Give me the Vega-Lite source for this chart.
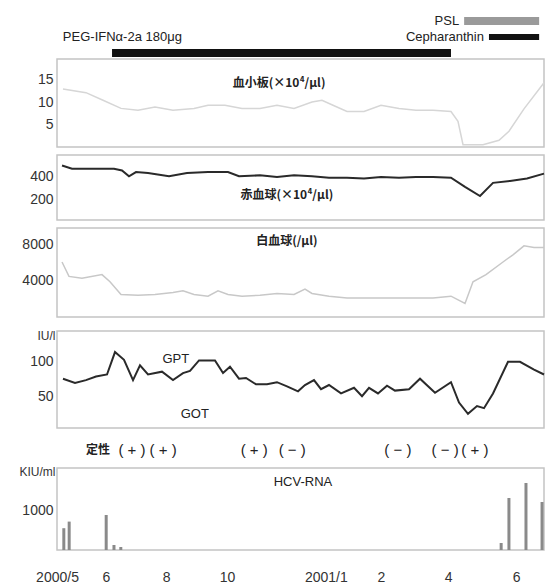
{
  "$schema": "https://vega.github.io/schema/vega-lite/v6.json",
  "background": "white",
  "padding": {"left": 18, "top": 10, "right": 0, "bottom": 0},
  "config": {
    "view": {"stroke": "#c4c4c4", "strokeWidth": 1.5},
    "axis": {"grid": false, "ticks": false, "domain": false, "title": null, "labelFont": "Liberation Sans", "labelFontSize": 14, "labelColor": "#333", "labelPadding": 4, "titleFont": "Liberation Sans", "titleFontSize": 12, "titleFontWeight": "normal", "titleColor": "#333"},
    "text": {"font": "Liberation Sans", "color": "#222"}
  },
  "spacing": 0,
  "bounds": "flush",
  "resolve": {"scale": {"y": "independent"}},
  "vconcat": [
    {
      "width": 487, "height": 47,
      "view": {"stroke": null},
      "data": {"values": [
        {"drug": "PSL", "lane": 1, "start": 83.6, "end": 99.0},
        {"drug": "Cepharanthin", "lane": 2, "start": 88.7, "end": 99.0},
        {"drug": "PEG-IFNα-2a 180μg", "lane": 3, "start": 11.3, "end": 80.9}
      ]},
      "layer": [
        {
          "mark": {"type": "rule", "strokeCap": "butt"},
          "encoding": {
            "x": {"field": "start", "type": "quantitative", "scale": {"domain": [0, 100], "nice": false, "zero": false}, "axis": null},
            "x2": {"field": "end"},
            "y": {"field": "lane", "type": "quantitative", "scale": {"domain": [0.31, 3.25], "reverse": true, "nice": false, "zero": false}, "axis": null},
            "color": {"condition": {"test": "datum.drug === 'PSL'", "value": "#9a9a9a"}, "value": "#111"},
            "strokeWidth": {"condition": {"test": "datum.drug === 'Cepharanthin'", "value": 6}, "value": 8}
          }
        },
        {
          "transform": [{"filter": "datum.drug !== 'PEG-IFNα-2a 180μg'"}],
          "mark": {"type": "text", "align": "right", "dx": -5, "fontSize": 13},
          "encoding": {
            "x": {"field": "start", "type": "quantitative"},
            "y": {"field": "lane", "type": "quantitative"},
            "text": {"field": "drug"}
          }
        },
        {
          "data": {"values": [{"label": "PEG-IFNα-2a 180μg", "t": 1.2, "lane": 2}]},
          "mark": {"type": "text", "align": "left", "fontSize": 13},
          "encoding": {
            "x": {"field": "t", "type": "quantitative"},
            "y": {"field": "lane", "type": "quantitative"},
            "text": {"field": "label"}
          }
        }
      ]
    },
    {
      "width": 487, "height": 2, "view": {"stroke": null},
      "data": {"values": [{}]}, "mark": "text", "encoding": {"text": {"value": ""}}
    },
    {
      "width": 487, "height": 88,
      "layer": [
        {
          "data": {"values": [
            {"t": 1.23, "v": 12.9}, {"t": 5.95, "v": 12.1}, {"t": 9.45, "v": 10.4}, {"t": 13.14, "v": 8.6},
            {"t": 16.63, "v": 8.2}, {"t": 20.12, "v": 8.9}, {"t": 23.82, "v": 8.2}, {"t": 28.13, "v": 8.6},
            {"t": 31.01, "v": 9.3}, {"t": 34.5, "v": 9.3}, {"t": 37.99, "v": 8.6}, {"t": 41.68, "v": 8.6},
            {"t": 45.17, "v": 9.3}, {"t": 48.67, "v": 8.6}, {"t": 52.36, "v": 10.0}, {"t": 54.41, "v": 10.4},
            {"t": 56.67, "v": 9.3}, {"t": 59.55, "v": 7.9}, {"t": 63.04, "v": 7.9}, {"t": 66.53, "v": 9.3},
            {"t": 70.23, "v": 8.6}, {"t": 73.72, "v": 8.2}, {"t": 77.21, "v": 8.2}, {"t": 80.9, "v": 7.9},
            {"t": 82.34, "v": 5.7}, {"t": 83.37, "v": 0.5}, {"t": 87.47, "v": 0.5}, {"t": 90.76, "v": 1.5},
            {"t": 92.81, "v": 3.5}, {"t": 95.89, "v": 8.5}, {"t": 100, "v": 14.3}
          ]},
          "mark": {"type": "line", "color": "#d6d6d6", "strokeWidth": 1.5},
          "encoding": {
            "x": {"field": "t", "type": "quantitative", "scale": {"domain": [0, 100], "nice": false, "zero": false}, "axis": null},
            "y": {"field": "v", "type": "quantitative", "scale": {"domain": [0, 19.6], "nice": false, "zero": false}, "axis": {"values": [5, 10, 15]}}
          }
        },
        {
          "data": {"values": [{"label": "血小板(×10⁴/μl)", "t": 45.6, "v": 14.3}]},
          "mark": {"type": "text", "font": "Noto Sans CJK JP", "fontSize": 12, "fontWeight": "bold"},
          "encoding": {
            "x": {"field": "t", "type": "quantitative"},
            "y": {"field": "v", "type": "quantitative"},
            "text": {"field": "label"}
          }
        }
      ]
    },
    {
      "width": 487, "height": 8, "view": {"stroke": null},
      "data": {"values": [{}]}, "mark": "text", "encoding": {"text": {"value": ""}}
    },
    {
      "width": 487, "height": 65,
      "layer": [
        {
          "data": {"values": [
            {"t": 1.03, "v": 500}, {"t": 3.08, "v": 471}, {"t": 6.57, "v": 471}, {"t": 11.7, "v": 471},
            {"t": 13.35, "v": 457}, {"t": 14.78, "v": 406}, {"t": 16.22, "v": 443}, {"t": 18.69, "v": 434},
            {"t": 23.0, "v": 406}, {"t": 26.69, "v": 434}, {"t": 31.01, "v": 443}, {"t": 35.11, "v": 443},
            {"t": 37.37, "v": 406}, {"t": 41.68, "v": 414}, {"t": 45.17, "v": 400}, {"t": 48.67, "v": 414},
            {"t": 52.36, "v": 406}, {"t": 55.85, "v": 394}, {"t": 59.55, "v": 394}, {"t": 63.04, "v": 386},
            {"t": 66.53, "v": 400}, {"t": 70.23, "v": 394}, {"t": 73.72, "v": 400}, {"t": 77.21, "v": 400},
            {"t": 80.9, "v": 394}, {"t": 83.78, "v": 314}, {"t": 86.86, "v": 234}, {"t": 89.53, "v": 349},
            {"t": 93.02, "v": 366}, {"t": 96.51, "v": 386}, {"t": 100, "v": 429}
          ]},
          "mark": {"type": "line", "color": "#2a2a2a", "strokeWidth": 2},
          "encoding": {
            "x": {"field": "t", "type": "quantitative", "scale": {"domain": [0, 100], "nice": false, "zero": false}, "axis": null},
            "y": {"field": "v", "type": "quantitative", "scale": {"domain": [26, 591], "nice": false, "zero": false}, "axis": {"values": [200, 400]}}
          }
        },
        {
          "data": {"values": [{"label": "赤血球(×10⁴/μl)", "t": 47.2, "v": 243}]},
          "mark": {"type": "text", "font": "Noto Sans CJK JP", "fontSize": 12, "fontWeight": "bold"},
          "encoding": {
            "x": {"field": "t", "type": "quantitative"},
            "y": {"field": "v", "type": "quantitative"},
            "text": {"field": "label"}
          }
        }
      ]
    },
    {
      "width": 487, "height": 8, "view": {"stroke": null},
      "data": {"values": [{}]}, "mark": "text", "encoding": {"text": {"value": ""}}
    },
    {
      "width": 487, "height": 89,
      "layer": [
        {
          "data": {"values": [
            {"t": 1.03, "v": 6000}, {"t": 2.46, "v": 4400}, {"t": 5.13, "v": 4200}, {"t": 9.24, "v": 4600},
            {"t": 10.88, "v": 3800}, {"t": 13.14, "v": 2400}, {"t": 16.63, "v": 2300}, {"t": 20.12, "v": 2400},
            {"t": 23.82, "v": 2600}, {"t": 25.87, "v": 2800}, {"t": 28.13, "v": 2400}, {"t": 31.01, "v": 2200},
            {"t": 33.06, "v": 2800}, {"t": 35.11, "v": 2400}, {"t": 37.99, "v": 2200}, {"t": 41.68, "v": 2300},
            {"t": 45.17, "v": 2500}, {"t": 48.67, "v": 2400}, {"t": 50.92, "v": 3000}, {"t": 52.36, "v": 2500},
            {"t": 55.85, "v": 2200}, {"t": 59.55, "v": 2000}, {"t": 66.53, "v": 2000}, {"t": 73.72, "v": 2000},
            {"t": 77.21, "v": 2000}, {"t": 80.9, "v": 2200}, {"t": 83.78, "v": 1400}, {"t": 85.42, "v": 3800},
            {"t": 88.09, "v": 4600}, {"t": 91.58, "v": 6000}, {"t": 93.63, "v": 6800}, {"t": 95.89, "v": 7800},
            {"t": 97.95, "v": 7600}, {"t": 100, "v": 7600}
          ]},
          "mark": {"type": "line", "color": "#c8c8c8", "strokeWidth": 1.5},
          "encoding": {
            "x": {"field": "t", "type": "quantitative", "scale": {"domain": [0, 100], "nice": false, "zero": false}, "axis": null},
            "y": {"field": "v", "type": "quantitative", "scale": {"domain": [-111, 9778], "nice": false, "zero": false}, "axis": {"values": [4000, 8000], "format": "d"}}
          }
        },
        {
          "data": {"values": [{"label": "白血球(/μl)", "t": 47.2, "v": 8333}]},
          "mark": {"type": "text", "font": "Noto Sans CJK JP", "fontSize": 12, "fontWeight": "bold"},
          "encoding": {
            "x": {"field": "t", "type": "quantitative"},
            "y": {"field": "v", "type": "quantitative"},
            "text": {"field": "label"}
          }
        }
      ]
    },
    {
      "width": 487, "height": 14, "view": {"stroke": null},
      "data": {"values": [{}]}, "mark": "text", "encoding": {"text": {"value": ""}}
    },
    {
      "width": 487, "height": 97,
      "layer": [
        {
          "data": {"values": [
            {"t": 1.23, "v": 76}, {"t": 3.7, "v": 70}, {"t": 5.95, "v": 74}, {"t": 8.01, "v": 79},
            {"t": 10.27, "v": 82}, {"t": 11.91, "v": 114}, {"t": 13.76, "v": 103}, {"t": 15.61, "v": 74},
            {"t": 17.04, "v": 95}, {"t": 18.69, "v": 82}, {"t": 21.56, "v": 86}, {"t": 23.82, "v": 74},
            {"t": 25.87, "v": 84}, {"t": 27.31, "v": 87}, {"t": 29.16, "v": 102}, {"t": 32.44, "v": 102},
            {"t": 34.09, "v": 84}, {"t": 35.52, "v": 93}, {"t": 37.37, "v": 76}, {"t": 38.81, "v": 77},
            {"t": 40.86, "v": 68}, {"t": 43.12, "v": 68}, {"t": 45.17, "v": 71}, {"t": 47.23, "v": 65},
            {"t": 49.49, "v": 58}, {"t": 50.92, "v": 67}, {"t": 52.77, "v": 74}, {"t": 54.21, "v": 61},
            {"t": 55.85, "v": 67}, {"t": 58.32, "v": 55}, {"t": 60.99, "v": 63}, {"t": 62.63, "v": 51},
            {"t": 64.07, "v": 63}, {"t": 65.91, "v": 55}, {"t": 67.76, "v": 66}, {"t": 69.4, "v": 59},
            {"t": 72.28, "v": 61}, {"t": 74.54, "v": 76}, {"t": 77.62, "v": 56}, {"t": 80.9, "v": 71},
            {"t": 82.55, "v": 42}, {"t": 84.39, "v": 26}, {"t": 86.24, "v": 37}, {"t": 87.68, "v": 34},
            {"t": 89.53, "v": 55}, {"t": 92.61, "v": 100}, {"t": 95.07, "v": 100}, {"t": 97.95, "v": 89},
            {"t": 100, "v": 82}
          ]},
          "mark": {"type": "line", "color": "#2a2a2a", "strokeWidth": 2},
          "encoding": {
            "x": {"field": "t", "type": "quantitative", "scale": {"domain": [0, 100], "nice": false, "zero": false}, "axis": null},
            "y": {"field": "v", "type": "quantitative", "scale": {"domain": [5.7, 144], "nice": false, "zero": false},
                  "axis": {"values": [50, 100], "title": "IU/l", "titleAngle": 0, "titleAlign": "right", "titleBaseline": "middle", "titleX": -2, "titleY": 4}}
          }
        },
        {
          "data": {"values": [{"label": "GPT", "t": 24.4, "v": 104}, {"label": "GOT", "t": 28.3, "v": 25.4}]},
          "mark": {"type": "text", "fontSize": 13},
          "encoding": {
            "x": {"field": "t", "type": "quantitative"},
            "y": {"field": "v", "type": "quantitative"},
            "text": {"field": "label"}
          }
        }
      ]
    },
    {
      "width": 487, "height": 40,
      "view": {"stroke": null},
      "data": {"values": [
        {"t": 8.4, "label": "定性"},
        {"t": 15.4, "label": "( + )"}, {"t": 21.8, "label": "( + )"},
        {"t": 40.5, "label": "( + )"}, {"t": 48.3, "label": "( − )"},
        {"t": 70.0, "label": "( − )"}, {"t": 79.7, "label": "( − )"}, {"t": 85.8, "label": "( + )"}
      ]},
      "layer": [
        {
          "transform": [{"filter": "datum.label === '定性'"}],
          "mark": {"type": "text", "font": "Noto Sans CJK JP", "fontSize": 12, "fontWeight": "bold", "dy": 2},
          "encoding": {
            "x": {"field": "t", "type": "quantitative", "scale": {"domain": [0, 100], "nice": false, "zero": false}, "axis": null},
            "text": {"field": "label"}
          }
        },
        {
          "transform": [{"filter": "datum.label !== '定性'"}],
          "mark": {"type": "text", "fontSize": 15, "dy": 2},
          "encoding": {
            "x": {"field": "t", "type": "quantitative"},
            "text": {"field": "label"}
          }
        }
      ]
    },
    {
      "width": 487, "height": 82,
      "layer": [
        {
          "data": {"values": [
            {"t": 1.4, "v": 545}, {"t": 2.5, "v": 710}, {"t": 10.1, "v": 875}, {"t": 11.7, "v": 125},
            {"t": 13.1, "v": 75}, {"t": 91.2, "v": 175}, {"t": 92.8, "v": 1300}, {"t": 96.3, "v": 1675},
            {"t": 99.6, "v": 1200}
          ]},
          "mark": {"type": "rule", "color": "#8a8a8a", "strokeWidth": 3, "strokeCap": "butt"},
          "encoding": {
            "x": {"field": "t", "type": "quantitative", "scale": {"domain": [0, 100], "nice": false, "zero": false},
                  "axis": {"values": [0, 10.06, 22.4, 34.9, 55.2, 66.5, 80.3, 94.3], "labelFlush": false, "labelPadding": 20,
                           "labelExpr": "datum.value == 0 ? '2000/5' : datum.value == 10.06 ? '6' : datum.value == 22.4 ? '8' : datum.value == 34.9 ? '10' : datum.value == 55.2 ? '2001/1' : datum.value == 66.5 ? '2' : datum.value == 80.3 ? '4' : '6'"}},
            "y": {"field": "v", "type": "quantitative", "scale": {"domain": [0, 2050], "nice": false, "zero": false},
                  "axis": {"values": [1000], "format": "d", "title": "KIU/ml", "titleAngle": 0, "titleAlign": "right", "titleBaseline": "middle", "titleX": -2, "titleY": 3}},
            "y2": {"datum": 0}
          }
        },
        {
          "data": {"values": [{"label": "HCV-RNA", "t": 50.5, "v": 1700}]},
          "mark": {"type": "text", "fontSize": 13},
          "encoding": {
            "x": {"field": "t", "type": "quantitative"},
            "y": {"field": "v", "type": "quantitative"},
            "text": {"field": "label"}
          }
        }
      ]
    }
  ]
}
